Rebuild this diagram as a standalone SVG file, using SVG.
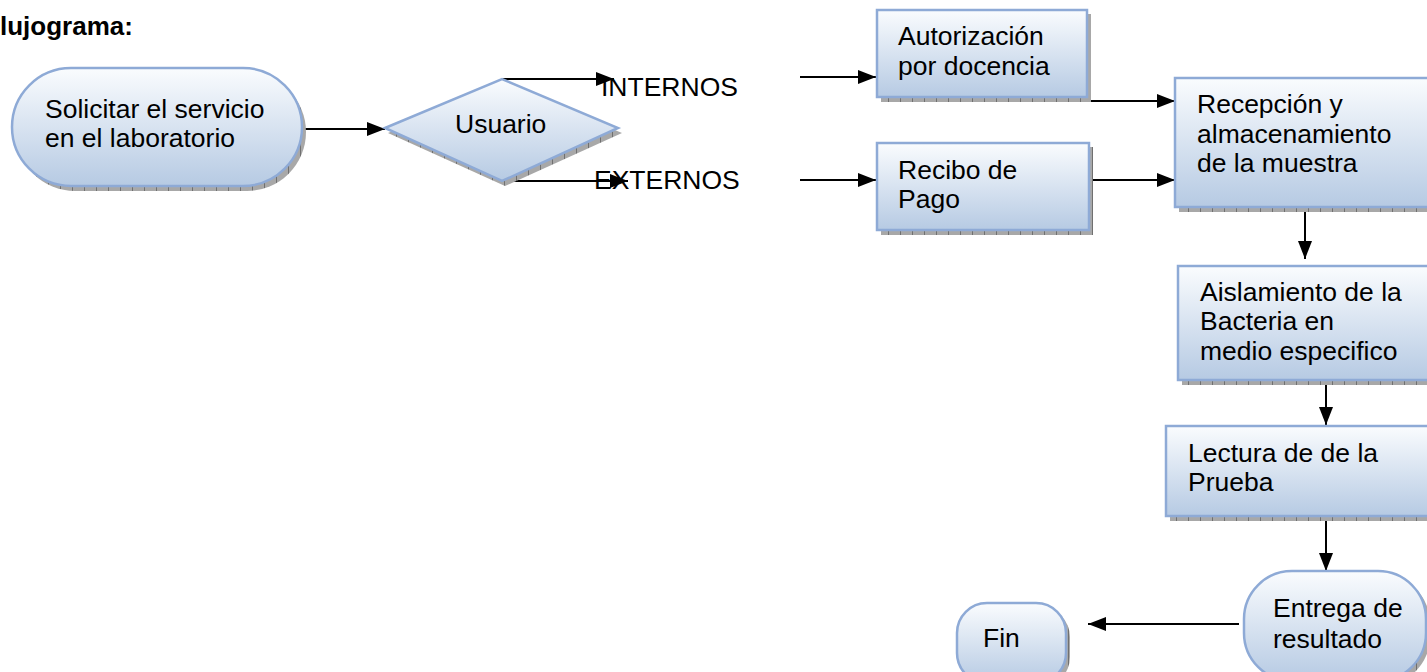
<svg xmlns="http://www.w3.org/2000/svg" width="1427" height="672" viewBox="0 0 1427 672">
<defs>
<linearGradient id="g" x1="0" y1="0" x2="0" y2="1">
<stop offset="0" stop-color="#fafcfe"/>
<stop offset="1" stop-color="#b6cae3"/>
</linearGradient>
<pattern id="hatch" width="12" height="6" patternUnits="userSpaceOnUse">
<rect width="12" height="6" fill="#a8a8a8"/>
<line x1="0.5" y1="0" x2="0.5" y2="6" stroke="#707070" stroke-width="1"/>
</pattern>
<marker id="ah" markerWidth="18" markerHeight="14" refX="18" refY="7" orient="auto" markerUnits="userSpaceOnUse">
<path d="M0,0 L18,7 L0,14 Z" fill="#000"/>
</marker>
</defs>
<style>
.n{fill:url(#g);stroke:#8eaad6;stroke-width:2.5}
.sh{fill:url(#hatch)}
.t{font-family:"Liberation Sans",Arial,sans-serif;font-size:26.5px;fill:#000}
.c{stroke:#000;stroke-width:2;fill:none;marker-end:url(#ah)}
</style>
<text x="0" y="35" font-family="'Liberation Sans',Arial,sans-serif" font-size="26" font-weight="bold">lujograma:</text>
<g id="connectors">
<line class="c" x1="303" y1="129" x2="385" y2="129"/>
<line class="c" x1="502" y1="79" x2="614" y2="79"/>
<line class="c" x1="502" y1="181" x2="628" y2="181"/>
<line class="c" x1="800" y1="77" x2="876" y2="77"/>
<line class="c" x1="800" y1="180" x2="876" y2="180"/>
<line class="c" x1="1087" y1="101" x2="1175" y2="101"/>
<line class="c" x1="1090" y1="180" x2="1175" y2="180"/>
<line class="c" x1="1305" y1="208" x2="1305" y2="259"/>
<line class="c" x1="1326" y1="383" x2="1326" y2="425"/>
<line class="c" x1="1326" y1="517" x2="1326" y2="571"/>
<line class="c" x1="1239" y1="624" x2="1088" y2="624"/>
</g>
<g id="start">
<rect class="sh" x="16" y="73" width="290" height="118" rx="59"/>
<rect class="n" x="12" y="68" width="290" height="118" rx="59"/>
<text class="t" x="45" y="118">Solicitar el servicio</text>
<text class="t" x="45" y="147">en el laboratorio</text>
</g>
<g id="usuario">
<path class="sh" d="M388,133 L505,84 L622,133 L505,186 Z"/>
<path class="n" d="M385,128 L502,79 L618,128 L502,181 Z"/>
<text class="t" x="455" y="133">Usuario</text>
</g>
<g id="labels">
<text class="t" x="601" y="96">INTERNOS</text>
<text class="t" x="594" y="189">EXTERNOS</text>
</g>
<g id="autorizacion">
<rect class="sh" x="881" y="14" width="210" height="88"/>
<rect class="n" x="877" y="10" width="210" height="87"/>
<text class="t" x="898" y="45">Autorización</text>
<text class="t" x="898" y="75">por docencia</text>
</g>
<g id="recibo">
<rect class="sh" x="881" y="147" width="212" height="88"/>
<rect class="n" x="877" y="143" width="212" height="87"/>
<text class="t" x="898" y="179">Recibo de</text>
<text class="t" x="898" y="208">Pago</text>
</g>
<g id="recepcion">
<rect class="sh" x="1179" y="82" width="260" height="130"/>
<rect class="n" x="1175" y="78" width="260" height="129"/>
<text class="t" x="1197" y="113">Recepción y</text>
<text class="t" x="1197" y="143">almacenamiento</text>
<text class="t" x="1197" y="172">de la muestra</text>
</g>
<g id="aislamiento">
<rect class="sh" x="1182" y="270" width="260" height="115"/>
<rect class="n" x="1178" y="266" width="260" height="114"/>
<text class="t" x="1200" y="301">Aislamiento de la</text>
<text class="t" x="1200" y="330">Bacteria en</text>
<text class="t" x="1200" y="360">medio especifico</text>
</g>
<g id="lectura">
<rect class="sh" x="1170" y="430" width="270" height="91"/>
<rect class="n" x="1166" y="426" width="270" height="90"/>
<text class="t" x="1188" y="462">Lectura de de la</text>
<text class="t" x="1188" y="491">Prueba</text>
</g>
<g id="entrega">
<rect class="sh" x="1248" y="575" width="182" height="110" rx="48"/>
<rect class="n" x="1244" y="571" width="182" height="110" rx="48"/>
<text class="t" x="1273" y="617">Entrega de</text>
<text class="t" x="1273" y="648">resultado</text>
</g>
<g id="fin">
<rect class="sh" x="961" y="607" width="109" height="80" rx="30"/>
<rect class="n" x="957" y="603" width="109" height="80" rx="30"/>
<text class="t" x="983" y="647">Fin</text>
</g>
</svg>
